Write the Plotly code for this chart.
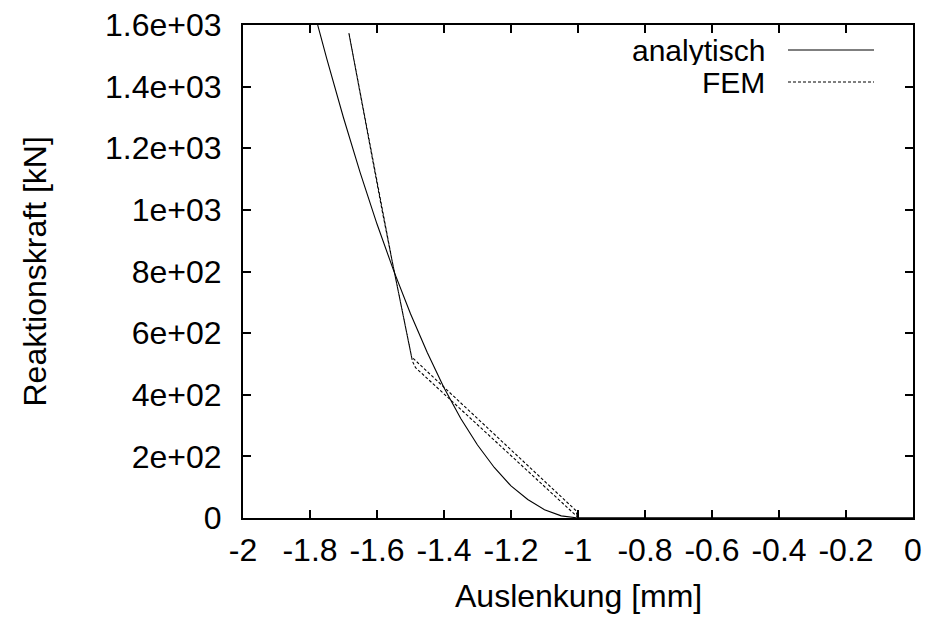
import plotly.graph_objects as go

# Analytic solution
ana_x = [0.0, -0.5, -1.0, -1.05, -1.10, -1.15, -1.20, -1.25, -1.30, -1.35, -1.40, -1.45,
         -1.50, -1.55, -1.60, -1.65, -1.70, -1.75, -1.78]
ana_y = [0, 0, 0, 7, 27, 60, 104, 164, 237, 323, 423, 537,
         663, 802, 954, 1120, 1299, 1491, 1612]

# FEM result (loading / unloading path)
fem_x = [0.0, -0.5, -1.0, -1.0, -1.485, -1.494, -1.555, -1.585, -1.684,
         -1.585, -1.555, -1.497, -1.496, -1.007, -1.0, -0.5, 0.0]
fem_y = [0, 0, 0, 2, 488, 508, 835, 1000, 1574,
         1000, 835, 524, 522, 25, 0, 0, 0]

x_ticks = [-2, -1.8, -1.6, -1.4, -1.2, -1, -0.8, -0.6, -0.4, -0.2, 0]
x_tick_text = ["-2", "-1.8", "-1.6", "-1.4", "-1.2", "-1", "-0.8", "-0.6", "-0.4", "-0.2", "0"]
y_ticks = [0, 200, 400, 600, 800, 1000, 1200, 1400, 1600]
y_tick_text = ["0", "2e+02", "4e+02", "6e+02", "8e+02", "1e+03", "1.2e+03", "1.4e+03", "1.6e+03"]

FONT = "Liberation Sans, Arial, sans-serif"
FS = 32

fig = go.Figure()
fig.add_trace(go.Scatter(x=ana_x, y=ana_y, mode="lines", name="analytisch",
                         line=dict(color="black", width=1.1), showlegend=False))
fig.add_trace(go.Scatter(x=fem_x, y=fem_y, mode="lines", name="FEM",
                         line=dict(color="black", width=1.1, dash="3px,2px"), showlegend=False))

axis_common = dict(showline=True, linecolor="black", linewidth=2, mirror="ticks",
                   ticks="inside", ticklen=8, tickwidth=1.5, tickcolor="black",
                   showgrid=False, zeroline=False, automargin=False,
                   tickfont=dict(family=FONT, size=FS, color="black"))

fig.update_xaxes(range=[-2, 0], tickvals=x_ticks, ticktext=x_tick_text,
                 ticklabelstandoff=3, **axis_common)
fig.update_yaxes(range=[0, 1600], tickvals=y_ticks, ticktext=y_tick_text,
                 ticklabelstandoff=13, **axis_common)

W = 670.0
H = 493.0
def px(xp):
    return (xp - 243) / W
def py(yp):
    return (518 - yp) / H

# Legend drawn manually (text left of line sample)
fig.add_annotation(x=px(767), y=py(50), xref="paper", yref="paper", text="analytisch",
                   showarrow=False, xanchor="right", yanchor="middle", height=30,
                   font=dict(family=FONT, size=30, color="black"))
fig.add_annotation(x=px(767), y=py(82), xref="paper", yref="paper", text="FEM",
                   showarrow=False, xanchor="right", yanchor="middle", height=30,
                   font=dict(family=FONT, size=30, color="black"))
fig.add_shape(type="line", xref="paper", yref="paper", x0=px(788), x1=px(874),
              y0=py(50), y1=py(50), line=dict(color="black", width=1.1))
fig.add_shape(type="line", xref="paper", yref="paper", x0=px(788), x1=px(874),
              y0=py(82), y1=py(82), line=dict(color="black", width=1.1, dash="3px,2px"))

# Axis titles
fig.add_annotation(x=0.5, y=py(596), xref="paper", yref="paper", text="Auslenkung [mm]",
                   showarrow=False, xanchor="center", yanchor="middle",
                   font=dict(family=FONT, size=FS, color="black"))
fig.add_annotation(x=px(34), y=0.5, xref="paper", yref="paper", text="Reaktionskraft [kN]",
                   showarrow=False, xanchor="center", yanchor="middle", textangle=-90,
                   font=dict(family=FONT, size=FS, color="black"))

fig.update_layout(width=925, height=617, margin=dict(l=243, r=12, t=25, b=99, autoexpand=False),
                  paper_bgcolor="white", plot_bgcolor="white", template="none")

fig.write_html("out.html", config={"responsive": False, "displayModeBar": False},
               post_script="document.body.style.margin='0px';document.body.style.overflow='hidden';")
